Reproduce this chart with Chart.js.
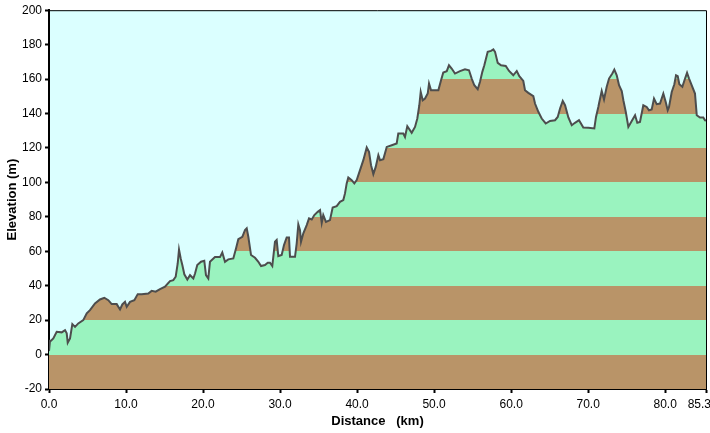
<!DOCTYPE html>
<html>
<head>
<meta charset="utf-8">
<script src="https://cdn.jsdelivr.net/npm/chart.js@4/dist/chart.umd.min.js"></script>
<style>
  html, body { margin: 0; padding: 0; background: #fff; }
  #wrap { width: 710px; height: 433px; }
</style>
</head>
<body>
<div id="wrap"><canvas id="profile" width="710" height="433"></canvas></div>
<script>
// distance along the route (km) and elevation (m)
const distance = [
  0, 0.13, 0.26, 0.56, 1.0, 1.65, 2.08, 2.3, 2.43, 2.73, 3.03, 3.38, 3.8, 4.45, 4.9, 5.32, 5.97, 6.62, 7.18, 7.7,
  8.14, 8.79, 9.22, 9.52, 9.87, 10.09, 10.52, 11.08, 11.52, 12.04, 12.89, 13.33, 13.85, 14.41, 15.06, 15.71, 16.14, 16.45, 16.71, 16.88,
  17.1, 17.31, 17.57, 17.96, 18.31, 18.74, 18.96, 19.25, 19.74, 20.16, 20.38, 20.68, 20.9, 21.55, 22.2, 22.5, 22.85, 23.28, 23.93, 24.28,
  24.58, 25.1, 25.45, 25.67, 25.88, 26.23, 26.75, 27.18, 27.53, 28.04, 28.4, 28.69, 28.99, 29.34, 29.56, 29.77, 30.21, 30.51, 30.86, 31.16,
  31.29, 31.94, 32.16, 32.37, 32.59, 32.72, 33.02, 33.46, 33.76, 34.11, 34.45, 34.89, 35.19, 35.41, 35.61, 35.96, 36.48, 36.83, 37.35, 37.78,
  38.21, 38.43, 38.65, 38.86, 39.3, 39.64, 39.95, 40.38, 40.81, 41.25, 41.55, 41.81, 42.11, 42.42, 42.76, 42.98, 43.41, 43.85, 44.5, 45.14,
  45.35, 46.0, 46.22, 46.52, 47.09, 47.52, 47.82, 48.08, 48.26, 48.52, 48.82, 49.17, 49.34, 49.6, 50.55, 50.9, 51.19, 51.64, 51.93, 52.28,
  52.71, 53.36, 54.01, 54.53, 54.88, 55.22, 55.66, 55.96, 56.26, 56.52, 56.96, 57.39, 57.69, 57.91, 58.26, 58.69, 59.3, 59.73, 60.28, 60.73,
  61.06, 61.58, 61.8, 62.23, 62.88, 63.1, 63.53, 63.97, 64.49, 65.05, 65.7, 66.05, 66.35, 66.7, 67.0, 67.43, 67.87, 68.29, 68.81, 69.37,
  70.02, 70.8, 71.02, 71.32, 71.41, 71.76, 72.06, 72.41, 72.71, 73.14, 73.4, 73.71, 74.01, 74.36, 74.57, 74.88, 75.22, 75.53, 76.09, 76.38,
  76.73, 77.16, 77.6, 77.9, 78.25, 78.55, 78.9, 79.33, 79.76, 80.07, 80.33, 80.5, 80.85, 81.19, 81.41, 81.63, 81.84, 82.23, 82.58, 82.84,
  83.1, 83.45, 83.87, 84.1, 84.52, 84.95, 85.17, 85.3
];
const elevation = [
  2, 8, 8, 9.4, 13.2, 12.9, 14.2, 12.3, 6.9, 9.4, 17.7, 16.1, 18.1, 20, 23.9, 25.8, 29.7, 32, 33, 31.6,
  29.3, 29.3, 26.2, 29.1, 30.6, 27.7, 30.6, 31.6, 35.1, 35.1, 35.5, 37, 36.5, 38, 39.4, 42.7, 43.2, 45.2, 52.9, 61,
  55.8, 52, 46.6, 43.6, 46.1, 44.2, 47.1, 52, 53.9, 54.5, 46.1, 44.2, 53.9, 56.6, 56.6, 59.3, 53.9, 55.3, 55.8, 61.6,
  67, 68.4, 72.3, 73.3, 68.4, 57.8, 56.2, 53.9, 51.4, 52, 53.3, 53.3, 51.4, 65.5, 66.5, 57.2, 57.8, 63.6, 68, 68,
  56.8, 56.8, 64.6, 75.6, 72.3, 65.5, 70.4, 75.2, 79.1, 78.5, 81, 82.9, 83.9, 76.5, 81, 77.1, 78.1, 85.4, 86.2, 88.7,
  89.7, 93.6, 99.4, 102.9, 101.3, 99.4, 101.3, 107.1, 112.9, 120.3, 117.7, 110, 104.8, 109, 115.8, 112.9, 113.5, 120.6, 121.6, 122.6,
  128.4, 128.4, 126.4, 132.6, 128.8, 132.2, 137.1, 144.8, 152.5, 147.7, 148.7, 151.6, 157.4, 153.5, 153.5, 159.3, 163.8, 164.6, 168, 166.1,
  163.2, 164.6, 165.7, 165.1, 160.3, 156.4, 154.1, 158.4, 164.2, 168, 175.8, 176.4, 177.2, 175.8, 169.4, 168, 167.6, 164.7, 162.2, 164.7,
  161.7, 158.9, 153.5, 152, 150.1, 145.8, 141, 137.1, 134.2, 135.7, 136.1, 138, 142.9, 147.3, 144.8, 137.7, 133.2, 134.6, 136.1, 131.9,
  131.7, 131.3, 138, 143.8, 145.8, 153.1, 148.1, 155.5, 160.3, 163.2, 165.5, 162.2, 156.4, 153.1, 147.7, 141, 132.2, 134.6, 139, 134.6,
  135.1, 144.8, 143.8, 141.9, 142.3, 148.7, 145.4, 145.8, 151.6, 146.7, 141.9, 143.8, 152.5, 157, 162.2, 161.7, 157, 155.5, 160.3, 163.6,
  160.3, 156.4, 151.6, 139, 137.7, 137.7, 136.1, 136
];
const distanceTicks = [0, 10, 20, 30, 40, 50, 60, 70, 80, 85.3];
const bandEdges = [-20, 0, 20, 40, 60, 80, 100, 120, 140, 160, 180, 200];

const BROWN = '#b99468';
const GREEN = '#9af3bf';
const SKY = '#dbffff';

const points = distance.map((d, i) => ({ x: d, y: elevation[i] }));

// hard-edged gradient: one colour per 20 m band
function bandFill(ctx) {
  const chart = ctx.chart;
  const y = chart.scales.y;
  if (!chart.chartArea || !y) return BROWN;
  const top = y.getPixelForValue(200);
  const bottom = y.getPixelForValue(-20);
  const g = chart.ctx.createLinearGradient(0, bottom, 0, top);
  const span = 220;
  for (let i = 0; i < bandEdges.length - 1; i++) {
    const c = i % 2 === 0 ? BROWN : GREEN;
    g.addColorStop((bandEdges[i] + 20) / span, c);
    g.addColorStop((bandEdges[i + 1] + 20) / span, c);
  }
  return g;
}

const plotFrame = {
  id: 'plotFrame',
  beforeDraw(chart) {
    const { ctx, chartArea: a } = chart;
    ctx.save();
    ctx.fillStyle = SKY;
    ctx.fillRect(a.left, a.top, a.right - a.left, a.bottom - a.top);
    ctx.restore();
  },
  afterDraw(chart) {
    const { ctx, chartArea: a } = chart;
    ctx.save();
    ctx.strokeStyle = '#000';
    ctx.lineWidth = 1;
    ctx.beginPath();
    ctx.moveTo(a.left, a.top + 0.5);
    ctx.lineTo(a.right + 0.5, a.top + 0.5);
    ctx.lineTo(a.right + 0.5, a.bottom);
    ctx.stroke();
    ctx.restore();
  }
};

new Chart(document.getElementById('profile'), {
  type: 'line',
  data: {
    datasets: [{
      label: 'Elevation',
      data: points,
      borderColor: '#4d4d4d',
      borderWidth: 2,
      pointRadius: 0,
      tension: 0,
      fill: 'start',
      backgroundColor: bandFill
    }]
  },
  options: {
    responsive: false,
    animation: false,
    layout: { padding: { top: 10, right: 4, left: 0, bottom: 0 } },
    plugins: {
      legend: { display: false },
      tooltip: { enabled: false }
    },
    scales: {
      x: {
        type: 'linear',
        min: 0,
        max: 85.3,
        afterBuildTicks: (scale) => {
          scale.ticks = distanceTicks.map(v => ({ value: v }));
        },
        afterFit: (scale) => {
          scale.height = 44;
          scale.paddingLeft = 0;
          scale.paddingRight = 0;
        },
        ticks: {
          autoSkip: false,
          maxRotation: 0,
          padding: 4,
          color: '#000',
          font: { family: 'Liberation Sans', size: 12 },
          callback: (v) => v === 85.3 ? '85.3    ' : v.toFixed(1)
        },
        grid: { drawOnChartArea: false, tickLength: 4, color: '#000', tickWidth: 2 },
        border: { color: '#000', width: 2 },
        title: {
          display: true,
          text: 'Distance   (km)',
          color: '#000',
          font: { family: 'Liberation Sans', size: 13, weight: 'bold' },
          padding: { top: 0, bottom: 4 }
        }
      },
      y: {
        min: -20,
        max: 200,
        afterFit: (scale) => { scale.width = 49; },
        ticks: {
          stepSize: 20,
          padding: 3,
          color: '#000',
          font: { family: 'Liberation Sans', size: 12 }
        },
        grid: { drawOnChartArea: false, tickLength: 4, color: '#000', tickWidth: 2 },
        border: { color: '#000', width: 2 },
        title: {
          display: true,
          text: 'Elevation (m)',
          color: '#000',
          font: { family: 'Liberation Sans', size: 13, weight: 'bold' },
          padding: { top: 5, bottom: 0 }
        }
      }
    }
  },
  plugins: [plotFrame]
});
</script>
</body>
</html>
